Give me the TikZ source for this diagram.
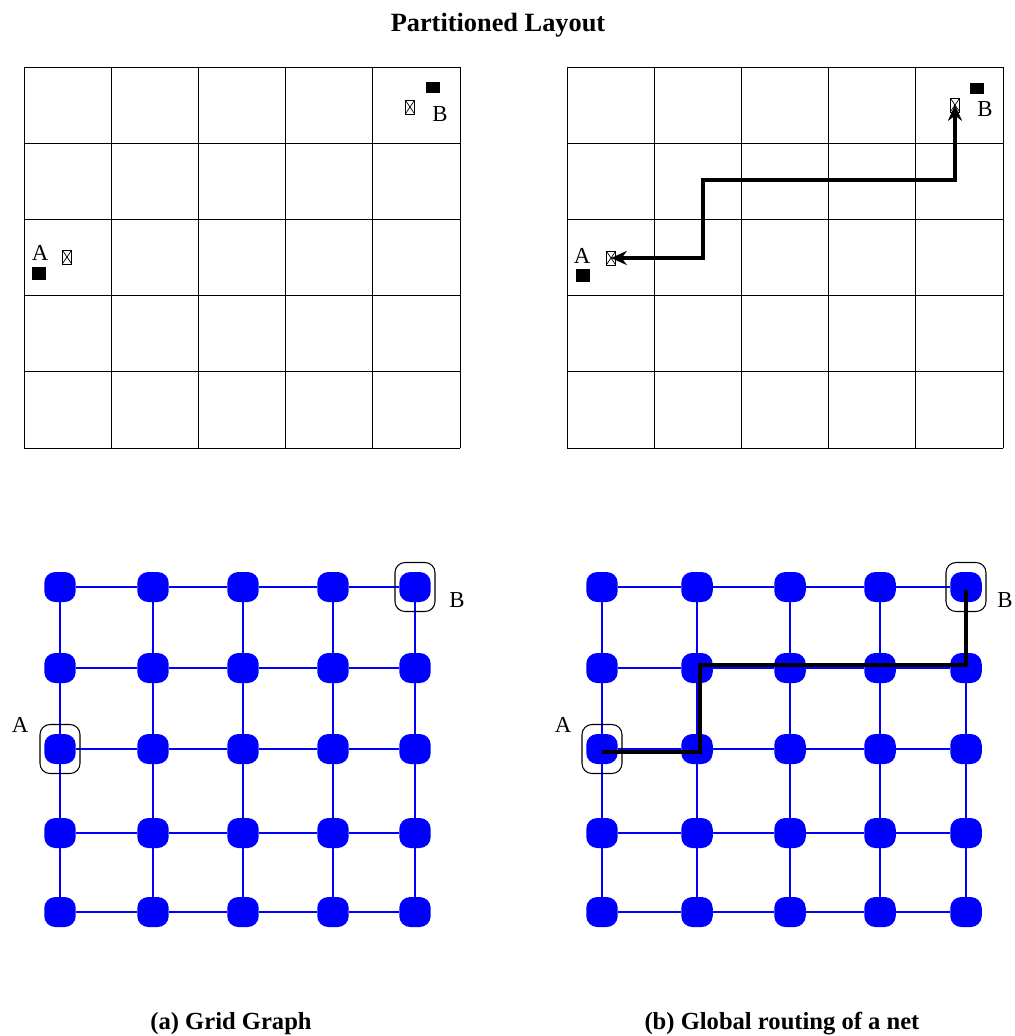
\documentclass[tikz,border=0pt]{standalone}
\usepackage{fontspec}
\setmainfont{Liberation Serif}
\usetikzlibrary{positioning,arrows.meta}

\tikzset{
  cell/.style={draw=black, line width=0.5pt, line cap=rect},
  term/.style={fill=black, draw=none, inner sep=0pt, minimum width=0.28cm, minimum height=0.22cm},
  xpin/.style={draw=black, line width=0.5pt, inner sep=0pt, minimum width=0.19cm, minimum height=0.28cm,
    path picture={\draw[line width=0.4pt] (path picture bounding box.south west) -- (path picture bounding box.north east)
      (path picture bounding box.north west) -- (path picture bounding box.south east);}},
  lbl/.style={font=\fontsize{13pt}{15pt}\selectfont, inner sep=0pt},
  vtx/.style={fill=blue, draw=none, rounded corners=0.22cm, minimum width=0.63cm, minimum height=0.6cm, inner sep=0pt},
  gedge/.style={draw=blue, line width=1.1pt},
  hilite/.style={draw=black, line width=0.6pt, rounded corners=0.2cm, minimum width=0.8cm, minimum height=0.98cm, inner sep=0pt},
  route/.style={draw=black, line width=2.8pt},
  capt/.style={font=\bfseries\fontsize{14pt}{16pt}\selectfont, inner sep=0pt}
}

\begin{document}
\begin{tikzpicture}[x=0.02cm,y=-0.02cm]
\useasboundingbox (0,0) rectangle (1015,1036);

% Title
\node[font=\bfseries\fontsize{15pt}{17pt}\selectfont, inner sep=0pt] (title) at (498,25) {Partitioned Layout};

% Partitioned grids (top)
\foreach \xo in {24,567}{
  \foreach \k in {0,...,5}{
    \draw[cell] (\xo+\k*87.2,67) -- (\xo+\k*87.2,448);
    \draw[cell] (\xo,67+\k*76.2) -- (\xo+436,67+\k*76.2);
  }
}

% Terminals, left layout
\node[term] (sqB) at (433,87) {};
\node[xpin] (pB) at (410,107) {};
\node[lbl] (labB) at (440,114) {B};
\node[lbl] (labA) at (40,253) {A};
\node[term, minimum height=0.26cm] (sqA) at (39,273) {};
\node[xpin] (pA) at (67,257) {};

% Terminals, right layout
\node[term] (sqB2) at (977,88) {};
\node[xpin] (pB2) at (955,105) {};
\node[lbl] (labB2) at (985,109) {B};
\node[lbl] (labA2) at (582,256) {A};
\node[term, minimum height=0.26cm] (sqA2) at (583,275) {};
\node[xpin] (pA2) at (611,258) {};

% Route in the layout
\draw[route, {Stealth[length=9pt,width=8pt]}-{Stealth[length=9pt,width=8pt]}]
  (pA2.center) -- (703,258) -- (703,180) -- (955,180) -- (pB2.center);

% Grid graphs (bottom)
\foreach \x [count=\i] in {60,153,243,333,415}{
  \foreach \y [count=\j] in {587,668,749,833,912}{
    \node[vtx] (g-\i-\j) at (\x,\y) {};
  }
}
\foreach \x [count=\i] in {602,697,790,880,966}{
  \foreach \y [count=\j] in {587,668,749,833,912}{
    \node[vtx] (r-\i-\j) at (\x,\y) {};
  }
}

% Edges
\foreach \i [evaluate=\i as \n using int(\i+1)] in {1,...,4}{
  \foreach \j in {1,...,5}{
    \draw[gedge] (g-\i-\j) -- (g-\n-\j);
    \draw[gedge] (g-\j-\i) -- (g-\j-\n);
    \draw[gedge] (r-\i-\j) -- (r-\n-\j);
    \draw[gedge] (r-\j-\i) -- (r-\j-\n);
  }
}

% Source and sink
\node[hilite] (hB) at (g-5-1) {};
\node[hilite] (hA) at (g-1-3) {};
\node[hilite] (hB2) at (r-5-1) {};
\node[hilite] (hA2) at (r-1-3) {};
\node[lbl] (gB) at (457,600) {B};
\node[lbl] (gA) at (20,725) {A};
\node[lbl] (rB) at (1005,600) {B};
\node[lbl] (rA) at (563,725) {A};

% Global route
\draw[route] ([yshift=-0.06cm]r-1-3.center) -| ([xshift=0.06cm]r-2-2.center) -- ([xshift=0.06cm,yshift=0.06cm]r-2-2.center)
  -- ([yshift=0.06cm]r-5-2.center) -- ([yshift=-0.05cm]r-5-1.center);

% Captions
\node[capt] (capa) at (231,1024) {(a) Grid Graph};
\node[capt] (capb) at (782,1024) {(b) Global routing of a net};

\end{tikzpicture}
\end{document}
